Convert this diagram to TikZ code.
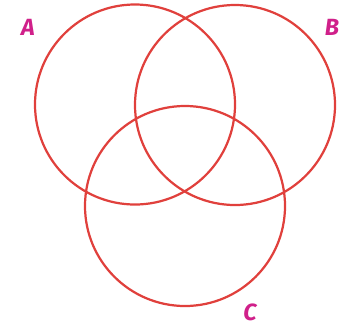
\documentclass[tikz,border=0pt]{standalone}
\usepackage{fontspec}
\usepackage{xcolor}
\usepackage{tikz}
\newfontfamily\lblfont{Fira Sans}
\definecolor{vennred}{HTML}{E0403C}
\definecolor{vennmag}{HTML}{D0208A}
\tikzset{
  ring/.style={draw=vennred,circle,line width=1.9pt,minimum size=200*0.03cm,inner sep=0pt},
  lbl/.style={text=vennmag,font=\lblfont\bfseries\itshape\fontsize{20}{24}\selectfont,inner sep=0pt},
}
\begin{document}
\begin{tikzpicture}[x=0.03cm,y=-0.03cm]
\useasboundingbox (0,0) rectangle (346,329);
\node[ring] (ringA) at (135,104.5) {};
\node[ring] (ringB) at (235,105) {};
\node[ring] (ringC) at (185,206) {};
\node[lbl] (labA) at (28,27) {A};
\node[lbl] (labB) at (332,27) {B};
\node[lbl] (labC) at (250,312) {C};
\end{tikzpicture}
\end{document}
